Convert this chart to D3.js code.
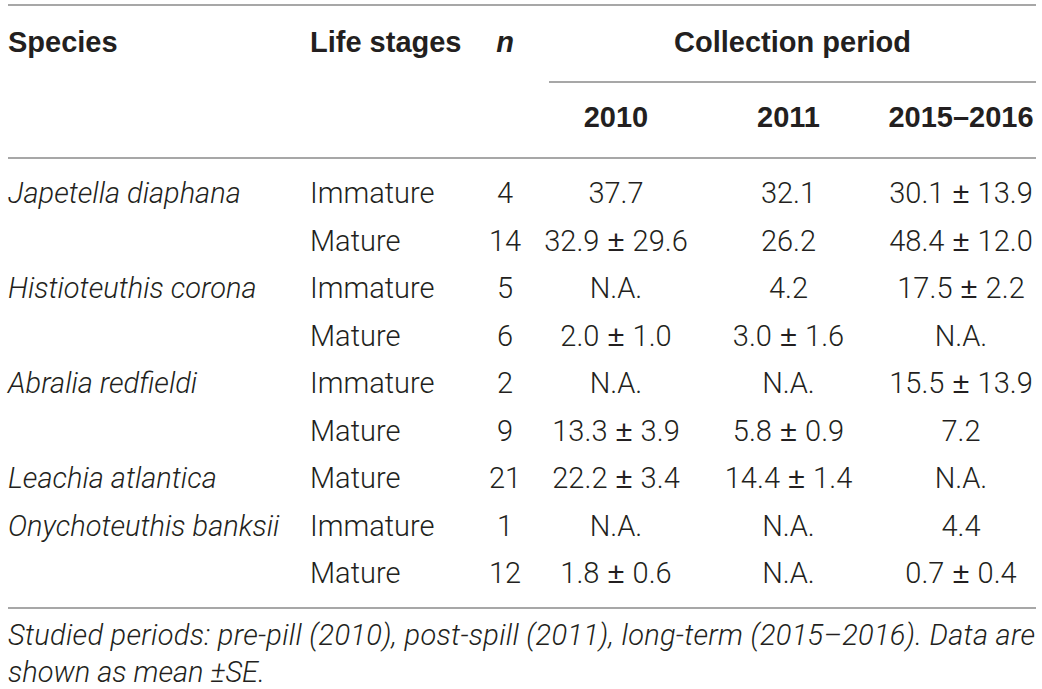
<!DOCTYPE html>
<html>
<head>
<meta charset="utf-8">
<script src="https://cdn.jsdelivr.net/npm/d3@7"></script>
<style>
  html, body { margin: 0; padding: 0; background: #fff; }
  svg text { fill: #231f20; }
  .body { font-family: "Roboto", "Liberation Sans", sans-serif; font-weight: 300; font-size: 29px; }
  .head { font-family: "Liberation Sans", Arial, sans-serif; font-weight: bold; font-size: 29px; }
  .pm { font-family: "Liberation Sans", Arial, sans-serif; font-weight: normal; font-size: 30px; }
</style>
</head>
<body>
<div id="table"></div>
<script>
// table contents
const species = ["Japetella diaphana", "", "Histioteuthis corona", "", "Abralia redfieldi", "", "Leachia atlantica", "Onychoteuthis banksii", ""];
const stages = ["Immature", "Mature", "Immature", "Mature", "Immature", "Mature", "Mature", "Immature", "Mature"];
const nValues = [4, 14, 5, 6, 2, 9, 21, 1, 12];
const v2010 = ["37.7", "32.9 ± 29.6", "N.A.", "2.0 ± 1.0", "N.A.", "13.3 ± 3.9", "22.2 ± 3.4", "N.A.", "1.8 ± 0.6"];
const v2011 = ["32.1", "26.2", "4.2", "3.0 ± 1.6", "N.A.", "5.8 ± 0.9", "14.4 ± 1.4", "N.A.", "N.A."];
const v2015 = ["30.1 ± 13.9", "48.4 ± 12.0", "17.5 ± 2.2", "N.A.", "15.5 ± 13.9", "7.2", "N.A.", "4.4", "0.7 ± 0.4"];
const periods = ["2010", "2011", "2015–2016"];
const footnote = ["Studied periods: pre-pill (2010), post-spill (2011), long-term (2015–2016). Data are",
                  "shown as mean ±SE."];

const width = 1042, height = 689;
const left = 8, right = 1036;

const svg = d3.select("#table").append("svg")
    .attr("width", width)
    .attr("height", height);

// row baselines
const yScale = d3.scalePoint()
    .domain(d3.range(stages.length))
    .range([203, 583]);

// column centres for the period columns
const xPeriod = d3.scalePoint()
    .domain(periods)
    .range([616, 961]);
const nX = 505, stageX = 310;

function hline(y, x1, x2) {
    svg.append("line")
        .attr("x1", x1).attr("x2", x2)
        .attr("y1", y).attr("y2", y)
        .attr("stroke", "#8a8a8a")
        .attr("stroke-width", 1.3);
}

hline(5, left, right);
hline(82, 549, right);
hline(158, left, right);
hline(608, left, right);

// header
svg.append("text").attr("class", "head").attr("x", left).attr("y", 52).text("Species");
svg.append("text").attr("class", "head").attr("x", stageX).attr("y", 52).text("Life stages");
svg.append("text").attr("class", "head").attr("x", nX).attr("y", 52)
    .attr("text-anchor", "middle").style("font-style", "italic").text("n");
svg.append("text").attr("class", "head").attr("x", (549 + right) / 2).attr("y", 52)
    .attr("text-anchor", "middle").text("Collection period");

svg.selectAll("text.period")
    .data(periods)
    .join("text")
        .attr("class", "head period")
        .attr("x", d => xPeriod(d))
        .attr("y", 127)
        .attr("text-anchor", "middle")
        .text(d => d);

// body rows
const rows = d3.range(stages.length);

svg.selectAll("text.species")
    .data(rows)
    .join("text")
        .attr("class", "body species")
        .attr("x", left)
        .attr("y", i => yScale(i))
        .style("font-style", "italic")
        .text(i => species[i]);

svg.selectAll("text.stage")
    .data(rows)
    .join("text")
        .attr("class", "body stage")
        .attr("x", stageX)
        .attr("y", i => yScale(i))
        .text(i => stages[i]);

svg.selectAll("text.n")
    .data(rows)
    .join("text")
        .attr("class", "body n")
        .attr("x", nX)
        .attr("y", i => yScale(i))
        .attr("text-anchor", "middle")
        .text(i => nValues[i]);

// mean ± SE cells: the plus-minus sign is set in a larger glyph
const cols = [v2010, v2011, v2015];
cols.forEach(function(col, c) {
    svg.selectAll("text.col" + c)
        .data(rows)
        .join("text")
            .attr("class", "body col" + c)
            .attr("x", xPeriod(periods[c]))
            .attr("y", i => yScale(i))
            .attr("text-anchor", "middle")
            .each(function(i) {
                var parts = col[i].split(" ± ");
                var t = d3.select(this);
                t.append("tspan").text(parts[0]);
                if (parts.length > 1) {
                    t.append("tspan").attr("class", "pm").text(" ± ");
                    t.append("tspan").text(parts[1]);
                }
            });
});

// footnote, first line justified to the table width
svg.selectAll("text.foot")
    .data(footnote)
    .join("text")
        .attr("class", "body foot")
        .attr("x", left)
        .attr("y", (d, i) => 645 + i * 37)
        .style("font-style", "italic")
        .text(d => d)
        .each(function(d, i) {
            if (i === 0) d3.select(this).attr("textLength", right - 1 - left).attr("lengthAdjust", "spacing");
        });
</script>
</body>
</html>
